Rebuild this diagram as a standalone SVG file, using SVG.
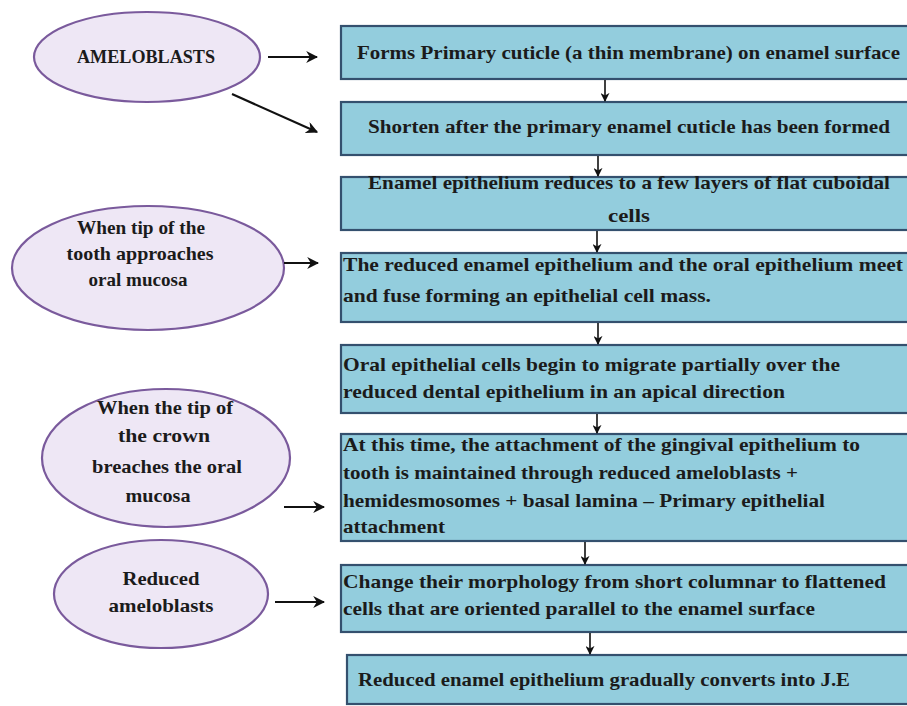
<svg xmlns="http://www.w3.org/2000/svg" width="907" height="706" viewBox="0 0 907 706">
<defs>
<style>
.box{fill:#93CDDD;stroke:#34506E;stroke-width:2.2}
.ell{fill:#EEE7F5;stroke:#7A5A9C;stroke-width:2.2}
.t{font-family:"Liberation Serif","Times New Roman",serif;font-size:19px;font-weight:bold;fill:#1B1B1B}
.c{text-anchor:middle}
.conn line{stroke:#111;stroke-width:2.2}
.conn .v{stroke-width:1.6}
</style>
<marker id="ah" viewBox="0 0 10 10" refX="9" refY="5" markerWidth="5" markerHeight="5" markerUnits="userSpaceOnUse" orient="auto">
<path d="M0,0 L10,5 L0,10 L3,5 Z" fill="#111"/>
</marker>
<marker id="ahv" viewBox="0 0 10 10" refX="9" refY="5" markerWidth="9" markerHeight="9" orient="auto" markerUnits="userSpaceOnUse">
<path d="M0,0 L10,5 L0,10 L3,5 Z" fill="#111"/>
</marker>
<marker id="ahh" viewBox="0 0 10 10" refX="9" refY="5" markerWidth="12" markerHeight="12" orient="auto" markerUnits="userSpaceOnUse">
<path d="M0,0 L10,5 L0,10 L3,5 Z" fill="#111"/>
</marker>
</defs>
<rect width="907" height="706" fill="#FFFFFF"/>

<g id="n-ameloblasts">
<ellipse class="ell" cx="147" cy="57" rx="113" ry="45"/>
<text class="t c" x="146" y="63" textLength="138" lengthAdjust="spacingAndGlyphs">AMELOBLASTS</text>
</g>
<g id="n-tip-approaches">
<ellipse class="ell" cx="148" cy="268" rx="136" ry="62"/>
<text class="t c" x="141" y="234" textLength="128" lengthAdjust="spacingAndGlyphs">When tip of the</text>
<text class="t c" x="140" y="260" textLength="147" lengthAdjust="spacingAndGlyphs">tooth approaches</text>
<text class="t c" x="138" y="286" textLength="99" lengthAdjust="spacingAndGlyphs">oral mucosa</text>
</g>
<g id="n-tip-breaches">
<ellipse class="ell" cx="166" cy="458" rx="124" ry="69"/>
<text class="t c" x="165" y="414" textLength="136" lengthAdjust="spacingAndGlyphs">When the tip of</text>
<text class="t c" x="164" y="442" textLength="92" lengthAdjust="spacingAndGlyphs">the crown</text>
<text class="t c" x="167" y="473" textLength="150" lengthAdjust="spacingAndGlyphs">breaches the oral</text>
<text class="t c" x="158" y="502" textLength="65" lengthAdjust="spacingAndGlyphs">mucosa</text>
</g>
<g id="n-reduced-ameloblasts">
<ellipse class="ell" cx="161" cy="594" rx="107" ry="54"/>
<text class="t c" x="161" y="585" textLength="77" lengthAdjust="spacingAndGlyphs">Reduced</text>
<text class="t c" x="161" y="612" textLength="105" lengthAdjust="spacingAndGlyphs">ameloblasts</text>
</g>

<g id="b1">
<rect class="box" x="341" y="26" width="580" height="53"/>
<text class="t" x="357" y="59" textLength="543" lengthAdjust="spacingAndGlyphs">Forms Primary cuticle (a thin membrane) on enamel surface</text>
</g>
<g id="b2">
<rect class="box" x="341" y="102" width="580" height="53"/>
<text class="t" x="368" y="133" textLength="522" lengthAdjust="spacingAndGlyphs">Shorten after the primary enamel cuticle has been formed</text>
</g>
<g id="b3">
<rect class="box" x="341" y="177" width="580" height="53"/>
<text class="t" x="368" y="189" textLength="522" lengthAdjust="spacingAndGlyphs">Enamel epithelium reduces to a few layers of flat cuboidal</text>
<text class="t" x="608" y="222" textLength="42" lengthAdjust="spacingAndGlyphs">cells</text>
</g>
<g id="b4">
<rect class="box" x="341" y="253" width="580" height="69"/>
<text class="t" x="343" y="271" textLength="560" lengthAdjust="spacingAndGlyphs">The reduced enamel epithelium and the oral epithelium meet</text>
<text class="t" x="343" y="302" textLength="368" lengthAdjust="spacingAndGlyphs">and fuse forming an epithelial cell mass.</text>
</g>
<g id="b5">
<rect class="box" x="341" y="345" width="580" height="68"/>
<text class="t" x="343" y="371" textLength="497" lengthAdjust="spacingAndGlyphs">Oral epithelial cells begin to migrate partially over the</text>
<text class="t" x="343" y="398" textLength="442" lengthAdjust="spacingAndGlyphs">reduced dental epithelium in an apical direction</text>
</g>
<g id="b6">
<rect class="box" x="341" y="434" width="580" height="107"/>
<text class="t" x="343" y="451" textLength="517" lengthAdjust="spacingAndGlyphs">At this time, the attachment of the gingival epithelium to</text>
<text class="t" x="343" y="479" textLength="455" lengthAdjust="spacingAndGlyphs">tooth is maintained through reduced ameloblasts +</text>
<text class="t" x="343" y="507" textLength="482" lengthAdjust="spacingAndGlyphs">hemidesmosomes + basal lamina – Primary epithelial</text>
<text class="t" x="343" y="533" textLength="102" lengthAdjust="spacingAndGlyphs">attachment</text>
</g>
<g id="b7">
<rect class="box" x="341" y="565" width="580" height="67"/>
<text class="t" x="343" y="588" textLength="543" lengthAdjust="spacingAndGlyphs">Change their morphology from short columnar to flattened</text>
<text class="t" x="343" y="615" textLength="472" lengthAdjust="spacingAndGlyphs">cells that are oriented parallel to the enamel surface</text>
</g>
<g id="b8">
<rect class="box" x="347" y="655" width="580" height="49"/>
<text class="t" x="358" y="686" textLength="492" lengthAdjust="spacingAndGlyphs">Reduced enamel epithelium gradually converts into J.E</text>
</g>

<g id="connectors" class="conn">
<line x1="268" y1="57" x2="317" y2="57" marker-end="url(#ahh)"/>
<line x1="232" y1="94" x2="317" y2="132" marker-end="url(#ahh)"/>
<line x1="284" y1="263" x2="318" y2="263" marker-end="url(#ahh)"/>
<line x1="284" y1="507" x2="324" y2="507" marker-end="url(#ahh)"/>
<line x1="275" y1="602" x2="324" y2="602" marker-end="url(#ahh)"/>
<line class="v" x1="605" y1="80" x2="605" y2="101" marker-end="url(#ahv)"/>
<line class="v" x1="598" y1="156" x2="598" y2="176" marker-end="url(#ahv)"/>
<line class="v" x1="597" y1="231" x2="597" y2="252" marker-end="url(#ahv)"/>
<line class="v" x1="598" y1="323" x2="598" y2="344" marker-end="url(#ahv)"/>
<line class="v" x1="597" y1="414" x2="597" y2="433" marker-end="url(#ahv)"/>
<line class="v" x1="585" y1="542" x2="585" y2="564" marker-end="url(#ahv)"/>
<line class="v" x1="590" y1="633" x2="590" y2="654" marker-end="url(#ahv)"/>
</g>
</svg>
